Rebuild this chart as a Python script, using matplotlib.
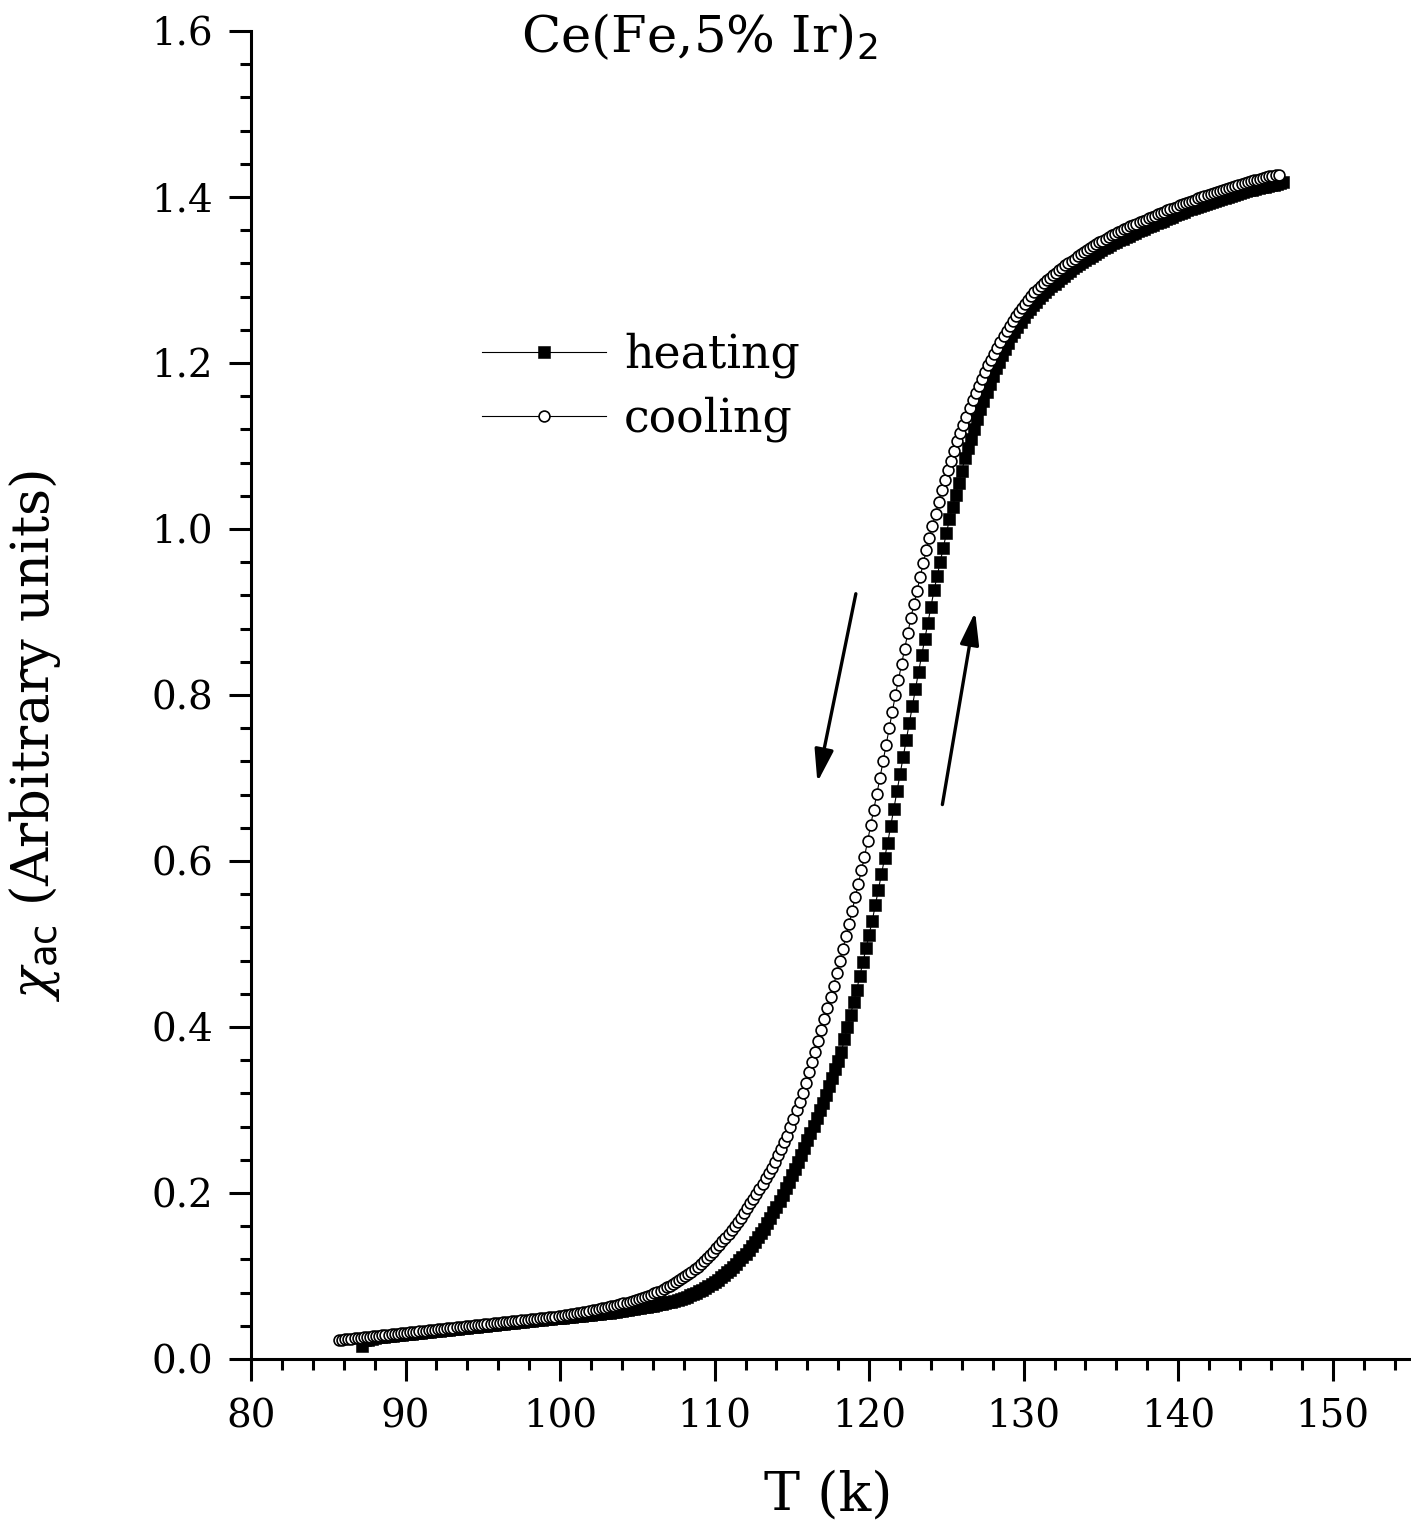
import matplotlib
matplotlib.use('Agg')
import matplotlib.pyplot as plt
from matplotlib.ticker import MultipleLocator

# cooling run (open circles), T in K
cool_T = [
    85.7, 85.9, 86.1, 86.3, 86.5,
    86.7, 86.9, 87.1, 87.3, 87.5,
    87.7, 87.9, 88.1, 88.3, 88.5,
    88.7, 88.9, 89.1, 89.3, 89.5,
    89.7, 89.9, 90.1, 90.3, 90.5,
    90.7, 90.9, 91.1, 91.3, 91.5,
    91.7, 91.9, 92.1, 92.3, 92.5,
    92.7, 92.9, 93.1, 93.3, 93.5,
    93.7, 93.9, 94.1, 94.3, 94.5,
    94.7, 94.9, 95.1, 95.3, 95.5,
    95.7, 95.9, 96.1, 96.3, 96.5,
    96.7, 96.9, 97.1, 97.3, 97.5,
    97.7, 97.9, 98.1, 98.3, 98.5,
    98.7, 98.9, 99.1, 99.3, 99.5,
    99.7, 99.9, 100.1, 100.3, 100.5,
    100.7, 100.9, 101.1, 101.3, 101.5,
    101.7, 101.9, 102.1, 102.3, 102.5,
    102.7, 102.9, 103.1, 103.3, 103.5,
    103.7, 103.9, 104.1, 104.3, 104.5,
    104.7, 104.9, 105.1, 105.3, 105.5,
    105.7, 105.9, 106.1, 106.3, 106.5,
    106.7, 106.9, 107.1, 107.3, 107.5,
    107.7, 107.9, 108.1, 108.3, 108.5,
    108.7, 108.9, 109.1, 109.3, 109.5,
    109.7, 109.9, 110.1, 110.3, 110.5,
    110.7, 110.9, 111.1, 111.3, 111.5,
    111.7, 111.9, 112.1, 112.3, 112.5,
    112.7, 112.9, 113.1, 113.3, 113.5,
    113.7, 113.9, 114.1, 114.3, 114.5,
    114.7, 114.9, 115.1, 115.3, 115.5,
    115.7, 115.9, 116.1, 116.3, 116.5,
    116.7, 116.9, 117.1, 117.3, 117.5,
    117.7, 117.9, 118.1, 118.3, 118.5,
    118.7, 118.9, 119.1, 119.3, 119.5,
    119.7, 119.9, 120.1, 120.3, 120.5,
    120.7, 120.9, 121.1, 121.3, 121.5,
    121.7, 121.9, 122.1, 122.3, 122.5,
    122.7, 122.9, 123.1, 123.3, 123.5,
    123.7, 123.9, 124.1, 124.3, 124.5,
    124.7, 124.9, 125.1, 125.3, 125.5,
    125.7, 125.9, 126.1, 126.3, 126.5,
    126.7, 126.9, 127.1, 127.3, 127.5,
    127.7, 127.9, 128.1, 128.3, 128.5,
    128.7, 128.9, 129.1, 129.3, 129.5,
    129.7, 129.9, 130.1, 130.3, 130.5,
    130.7, 130.9, 131.1, 131.3, 131.5,
    131.7, 131.9, 132.1, 132.3, 132.5,
    132.7, 132.9, 133.1, 133.3, 133.5,
    133.7, 133.9, 134.1, 134.3, 134.5,
    134.7, 134.9, 135.1, 135.3, 135.5,
    135.7, 135.9, 136.1, 136.3, 136.5,
    136.7, 136.9, 137.1, 137.3, 137.5,
    137.7, 137.9, 138.1, 138.3, 138.5,
    138.7, 138.9, 139.1, 139.3, 139.5,
    139.7, 139.9, 140.1, 140.3, 140.5,
    140.7, 140.9, 141.1, 141.3, 141.5,
    141.7, 141.9, 142.1, 142.3, 142.5,
    142.7, 142.9, 143.1, 143.3, 143.5,
    143.7, 143.9, 144.1, 144.3, 144.5,
    144.7, 144.9, 145.1, 145.3, 145.5,
    145.7, 145.9, 146.1, 146.3, 146.5,
]
cool_chi = [
    0.0230, 0.0234, 0.0238, 0.0242, 0.0246,
    0.0250, 0.0254, 0.0258, 0.0262, 0.0266,
    0.0270, 0.0274, 0.0278, 0.0282, 0.0286,
    0.0290, 0.0294, 0.0298, 0.0302, 0.0306,
    0.0310, 0.0314, 0.0318, 0.0322, 0.0326,
    0.0330, 0.0334, 0.0338, 0.0342, 0.0346,
    0.0350, 0.0354, 0.0358, 0.0362, 0.0366,
    0.0370, 0.0374, 0.0378, 0.0382, 0.0386,
    0.0390, 0.0394, 0.0398, 0.0402, 0.0406,
    0.0410, 0.0414, 0.0418, 0.0422, 0.0426,
    0.0430, 0.0434, 0.0438, 0.0442, 0.0446,
    0.0450, 0.0454, 0.0458, 0.0462, 0.0466,
    0.0470, 0.0474, 0.0478, 0.0482, 0.0486,
    0.0490, 0.0494, 0.0498, 0.0502, 0.0506,
    0.0510, 0.0516, 0.0522, 0.0528, 0.0534,
    0.0540, 0.0546, 0.0552, 0.0558, 0.0564,
    0.0570, 0.0578, 0.0586, 0.0594, 0.0602,
    0.0610, 0.0618, 0.0626, 0.0634, 0.0642,
    0.0650, 0.0660, 0.0670, 0.0680, 0.0690,
    0.0700, 0.0712, 0.0724, 0.0736, 0.0748,
    0.0760, 0.0776, 0.0792, 0.0808, 0.0824,
    0.0840, 0.0862, 0.0884, 0.0906, 0.0928,
    0.0950, 0.0976, 0.1002, 0.1028, 0.1054,
    0.1080, 0.1114, 0.1148, 0.1182, 0.1216,
    0.1250, 0.1292, 0.1334, 0.1376, 0.1418,
    0.1460, 0.1508, 0.1556, 0.1604, 0.1652,
    0.1700, 0.1758, 0.1816, 0.1874, 0.1932,
    0.1990, 0.2052, 0.2114, 0.2176, 0.2238,
    0.2300, 0.2378, 0.2456, 0.2534, 0.2612,
    0.2690, 0.2792, 0.2894, 0.2996, 0.3098,
    0.3200, 0.3326, 0.3452, 0.3578, 0.3704,
    0.3830, 0.3964, 0.4098, 0.4232, 0.4366,
    0.4500, 0.4648, 0.4796, 0.4944, 0.5092,
    0.5240, 0.5402, 0.5564, 0.5726, 0.5888,
    0.6050, 0.6240, 0.6430, 0.6620, 0.6810,
    0.7000, 0.7200, 0.7400, 0.7600, 0.7800,
    0.8000, 0.8186, 0.8372, 0.8558, 0.8744,
    0.8930, 0.9094, 0.9258, 0.9422, 0.9586,
    0.9750, 0.9894, 1.0038, 1.0182, 1.0326,
    1.0470, 1.0588, 1.0706, 1.0824, 1.0942,
    1.1060, 1.1158, 1.1256, 1.1354, 1.1452,
    1.1550, 1.1634, 1.1718, 1.1802, 1.1886,
    1.1970, 1.2042, 1.2114, 1.2186, 1.2258,
    1.2330, 1.2388, 1.2446, 1.2504, 1.2562,
    1.2620, 1.2666, 1.2712, 1.2758, 1.2804,
    1.2850, 1.2886, 1.2922, 1.2958, 1.2994,
    1.3030, 1.3060, 1.3090, 1.3120, 1.3150,
    1.3180, 1.3206, 1.3232, 1.3258, 1.3284,
    1.3310, 1.3334, 1.3358, 1.3382, 1.3406,
    1.3430, 1.3452, 1.3474, 1.3496, 1.3518,
    1.3540, 1.3558, 1.3576, 1.3594, 1.3612,
    1.3630, 1.3646, 1.3662, 1.3678, 1.3694,
    1.3710, 1.3726, 1.3742, 1.3758, 1.3774,
    1.3790, 1.3806, 1.3822, 1.3838, 1.3854,
    1.3870, 1.3884, 1.3898, 1.3912, 1.3926,
    1.3940, 1.3954, 1.3968, 1.3982, 1.3996,
    1.4010, 1.4022, 1.4034, 1.4046, 1.4058,
    1.4070, 1.4082, 1.4094, 1.4106, 1.4118,
    1.4130, 1.4142, 1.4154, 1.4166, 1.4178,
    1.4190, 1.4200, 1.4210, 1.4220, 1.4230,
    1.4240, 1.4248, 1.4255, 1.4263, 1.4270,
]

# heating run (filled squares)
heat_T = [
    87.2, 87.4, 87.6, 87.8, 88.0,
    88.2, 88.4, 88.6, 88.8, 89.0,
    89.2, 89.4, 89.6, 89.8, 90.0,
    90.2, 90.4, 90.6, 90.8, 91.0,
    91.2, 91.4, 91.6, 91.8, 92.0,
    92.2, 92.4, 92.6, 92.8, 93.0,
    93.2, 93.4, 93.6, 93.8, 94.0,
    94.2, 94.4, 94.6, 94.8, 95.0,
    95.2, 95.4, 95.6, 95.8, 96.0,
    96.2, 96.4, 96.6, 96.8, 97.0,
    97.2, 97.4, 97.6, 97.8, 98.0,
    98.2, 98.4, 98.6, 98.8, 99.0,
    99.2, 99.4, 99.6, 99.8, 100.0,
    100.2, 100.4, 100.6, 100.8, 101.0,
    101.2, 101.4, 101.6, 101.8, 102.0,
    102.2, 102.4, 102.6, 102.8, 103.0,
    103.2, 103.4, 103.6, 103.8, 104.0,
    104.2, 104.4, 104.6, 104.8, 105.0,
    105.2, 105.4, 105.6, 105.8, 106.0,
    106.2, 106.4, 106.6, 106.8, 107.0,
    107.2, 107.4, 107.6, 107.8, 108.0,
    108.2, 108.4, 108.6, 108.8, 109.0,
    109.2, 109.4, 109.6, 109.8, 110.0,
    110.2, 110.4, 110.6, 110.8, 111.0,
    111.2, 111.4, 111.6, 111.8, 112.0,
    112.2, 112.4, 112.6, 112.8, 113.0,
    113.2, 113.4, 113.6, 113.8, 114.0,
    114.2, 114.4, 114.6, 114.8, 115.0,
    115.2, 115.4, 115.6, 115.8, 116.0,
    116.2, 116.4, 116.6, 116.8, 117.0,
    117.2, 117.4, 117.6, 117.8, 118.0,
    118.2, 118.4, 118.6, 118.8, 119.0,
    119.2, 119.4, 119.6, 119.8, 120.0,
    120.2, 120.4, 120.6, 120.8, 121.0,
    121.2, 121.4, 121.6, 121.8, 122.0,
    122.2, 122.4, 122.6, 122.8, 123.0,
    123.2, 123.4, 123.6, 123.8, 124.0,
    124.2, 124.4, 124.6, 124.8, 125.0,
    125.2, 125.4, 125.6, 125.8, 126.0,
    126.2, 126.4, 126.6, 126.8, 127.0,
    127.2, 127.4, 127.6, 127.8, 128.0,
    128.2, 128.4, 128.6, 128.8, 129.0,
    129.2, 129.4, 129.6, 129.8, 130.0,
    130.2, 130.4, 130.6, 130.8, 131.0,
    131.2, 131.4, 131.6, 131.8, 132.0,
    132.2, 132.4, 132.6, 132.8, 133.0,
    133.2, 133.4, 133.6, 133.8, 134.0,
    134.2, 134.4, 134.6, 134.8, 135.0,
    135.2, 135.4, 135.6, 135.8, 136.0,
    136.2, 136.4, 136.6, 136.8, 137.0,
    137.2, 137.4, 137.6, 137.8, 138.0,
    138.2, 138.4, 138.6, 138.8, 139.0,
    139.2, 139.4, 139.6, 139.8, 140.0,
    140.2, 140.4, 140.6, 140.8, 141.0,
    141.2, 141.4, 141.6, 141.8, 142.0,
    142.2, 142.4, 142.6, 142.8, 143.0,
    143.2, 143.4, 143.6, 143.8, 144.0,
    144.2, 144.4, 144.6, 144.8, 145.0,
    145.2, 145.4, 145.6, 145.8, 146.0,
    146.2, 146.4, 146.6, 146.8,
]
heat_chi = [
    0.0160, 0.0225, 0.0234, 0.0243, 0.0252,
    0.0260, 0.0264, 0.0268, 0.0272, 0.0276,
    0.0280, 0.0284, 0.0288, 0.0292, 0.0296,
    0.0300, 0.0304, 0.0308, 0.0312, 0.0316,
    0.0320, 0.0324, 0.0328, 0.0332, 0.0336,
    0.0340, 0.0344, 0.0348, 0.0352, 0.0356,
    0.0360, 0.0364, 0.0368, 0.0372, 0.0376,
    0.0380, 0.0384, 0.0388, 0.0392, 0.0396,
    0.0400, 0.0404, 0.0408, 0.0412, 0.0416,
    0.0420, 0.0424, 0.0428, 0.0432, 0.0436,
    0.0440, 0.0444, 0.0448, 0.0452, 0.0456,
    0.0460, 0.0464, 0.0468, 0.0472, 0.0476,
    0.0480, 0.0484, 0.0488, 0.0492, 0.0496,
    0.0500, 0.0504, 0.0508, 0.0512, 0.0516,
    0.0520, 0.0524, 0.0528, 0.0532, 0.0536,
    0.0540, 0.0544, 0.0548, 0.0552, 0.0556,
    0.0560, 0.0566, 0.0572, 0.0578, 0.0584,
    0.0590, 0.0596, 0.0602, 0.0608, 0.0614,
    0.0620, 0.0626, 0.0632, 0.0638, 0.0644,
    0.0650, 0.0658, 0.0666, 0.0674, 0.0682,
    0.0690, 0.0702, 0.0714, 0.0726, 0.0738,
    0.0750, 0.0766, 0.0782, 0.0798, 0.0814,
    0.0830, 0.0854, 0.0878, 0.0902, 0.0926,
    0.0950, 0.0982, 0.1014, 0.1046, 0.1078,
    0.1110, 0.1150, 0.1190, 0.1230, 0.1270,
    0.1310, 0.1362, 0.1414, 0.1466, 0.1518,
    0.1570, 0.1636, 0.1702, 0.1768, 0.1834,
    0.1900, 0.1978, 0.2056, 0.2134, 0.2212,
    0.2290, 0.2376, 0.2462, 0.2548, 0.2634,
    0.2720, 0.2812, 0.2904, 0.2996, 0.3088,
    0.3180, 0.3284, 0.3388, 0.3492, 0.3596,
    0.3700, 0.3850, 0.4000, 0.4150, 0.4300,
    0.4450, 0.4616, 0.4782, 0.4948, 0.5114,
    0.5280, 0.5468, 0.5656, 0.5844, 0.6032,
    0.6220, 0.6426, 0.6632, 0.6838, 0.7044,
    0.7250, 0.7456, 0.7662, 0.7868, 0.8074,
    0.8280, 0.8476, 0.8672, 0.8868, 0.9064,
    0.9260, 0.9432, 0.9604, 0.9776, 0.9948,
    1.0120, 1.0266, 1.0412, 1.0558, 1.0704,
    1.0850, 1.0970, 1.1090, 1.1210, 1.1330,
    1.1450, 1.1548, 1.1646, 1.1744, 1.1842,
    1.1940, 1.2016, 1.2092, 1.2168, 1.2244,
    1.2320, 1.2378, 1.2436, 1.2494, 1.2552,
    1.2610, 1.2652, 1.2694, 1.2736, 1.2778,
    1.2820, 1.2854, 1.2888, 1.2922, 1.2956,
    1.2990, 1.3020, 1.3050, 1.3080, 1.3110,
    1.3140, 1.3166, 1.3192, 1.3218, 1.3244,
    1.3270, 1.3292, 1.3314, 1.3336, 1.3358,
    1.3380, 1.3400, 1.3420, 1.3440, 1.3460,
    1.3480, 1.3498, 1.3516, 1.3534, 1.3552,
    1.3570, 1.3586, 1.3602, 1.3618, 1.3634,
    1.3650, 1.3666, 1.3682, 1.3698, 1.3714,
    1.3730, 1.3746, 1.3762, 1.3778, 1.3794,
    1.3810, 1.3824, 1.3838, 1.3852, 1.3866,
    1.3880, 1.3892, 1.3904, 1.3916, 1.3928,
    1.3940, 1.3952, 1.3964, 1.3976, 1.3988,
    1.4000, 1.4012, 1.4024, 1.4036, 1.4048,
    1.4060, 1.4070, 1.4080, 1.4090, 1.4100,
    1.4110, 1.4118, 1.4126, 1.4134, 1.4142,
    1.4150, 1.4160, 1.4170, 1.4180,
]

# arrows showing sweep direction: (start T, start chi) -> (end T, end chi)
arrow_cool = [(119.14, 0.922), (116.65, 0.695)]
arrow_heat = [(124.74, 0.668), (126.86, 0.900)]

title = 'Ce(Fe,5% Ir)$_\\mathsf{2}$'

plt.rcParams['font.family'] = ['DejaVu Serif']
plt.rcParams['mathtext.fontset'] = 'dejavuserif'

fig = plt.figure(figsize=(14.11, 15.27), dpi=100)
ax = fig.add_axes([251 / 1411, 168 / 1527, 1159 / 1411, 1328 / 1527])

ax.plot(heat_T, heat_chi, '-', color='black', lw=0.8, marker='s', ms=8.6,
        mfc='black', mec='black', mew=0.4, label='heating', zorder=2)
ax.plot(cool_T, cool_chi, '-', color='black', lw=0.8, marker='o', ms=7.8,
        mfc='white', mec='black', mew=1.2, label='cooling', zorder=3)

# direction arrows
for (x0, y0), (x1, y1) in (arrow_cool, arrow_heat):
    ax.annotate('', xy=(x1, y1), xytext=(x0, y0),
                arrowprops=dict(arrowstyle='-|>,head_length=0.55,head_width=0.16',
                                color='black', lw=2.4, mutation_scale=36,
                                shrinkA=0, shrinkB=0))

ax.set_xlim(80, 155)
ax.set_ylim(0, 1.6)
ax.xaxis.set_major_locator(MultipleLocator(10))
ax.xaxis.set_minor_locator(MultipleLocator(2))
ax.yaxis.set_major_locator(MultipleLocator(0.2))
ax.yaxis.set_minor_locator(MultipleLocator(0.04))
ax.yaxis.set_major_formatter(plt.FormatStrFormatter('%.1f'))

for side in ['top', 'right']:
    ax.spines[side].set_visible(False)
for side in ['left', 'bottom']:
    ax.spines[side].set_linewidth(2.2)

ax.tick_params(which='major', direction='out', length=15.8, width=2.2, labelsize=28)
ax.tick_params(which='minor', direction='out', length=8, width=2.2)
ax.tick_params(axis='x', which='major', pad=13)
ax.tick_params(axis='y', which='major', pad=11.5)

ax.set_xlabel('T (k)', fontsize=39)
ax.xaxis.set_label_coords(0.498, -0.083)
ax.set_ylabel('$\\chi_{\\mathsf{ac}}$ (Arbitrary units)', fontsize=38)
ax.yaxis.set_label_coords(-0.162, 0.469)

fig.text(699 / 1411, 1 - 52 / 1527, title, ha='center', va='baseline', fontsize=37)

ax.legend(loc='upper left', bbox_to_anchor=(0.1993, 0.7729), frameon=False,
          fontsize=33, numpoints=1, handlelength=2.7, handletextpad=0.4,
          labelspacing=0.40, borderpad=0, borderaxespad=0)

fig.savefig('out.png', dpi=100)
